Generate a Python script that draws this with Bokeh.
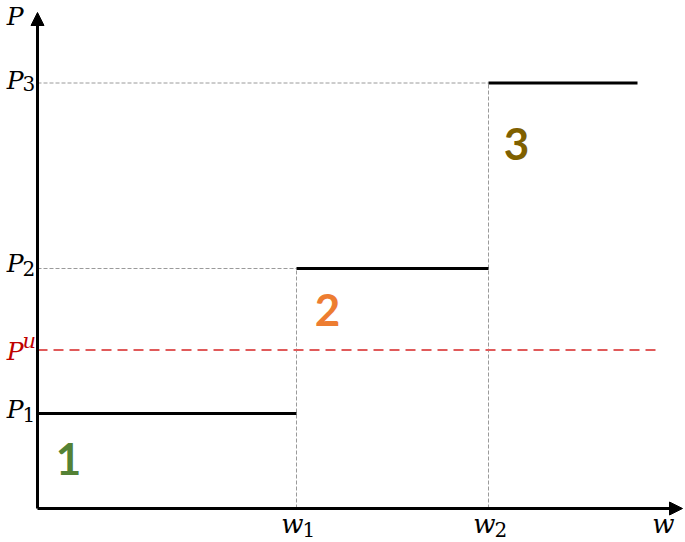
from bokeh.plotting import figure
from bokeh.models import ColumnDataSource, Arrow, NormalHead, Range1d
from bokeh.core.properties import value
from bokeh.embed import file_html
from bokeh.resources import INLINE

# ---- data ----
w_levels = [2.59, 4.51]          # w1, w2
w_subs = ["1", "2"]
p_levels = [0.95, 2.40, 4.255]   # P1, P2, P3
p_subs = ["1", "2", "3"]
p_u = 1.585                       # P^u
step_start = [0.0, 2.59, 4.51]
step_end = [2.59, 4.51, 6.00]
step_ids = ["1", "2", "3"]
step_colors = ["#548235", "#ED7D31", "#7F6000"]
id_x = [0.31, 2.90, 4.79]
id_y = [0.50, 1.99, 3.65]
x_axis_end = 6.45
y_axis_end = 4.96
pu_end = 6.18

SERIF = value("DejaVu Serif")

p = figure(width=685, height=542, x_range=Range1d(-0.37, 6.48), y_range=Range1d(-0.34, 5.08),
           output_backend="svg", toolbar_location=None, min_border=0,
           x_axis_type=None, y_axis_type=None)
p.grid.visible = False
p.outline_line_color = None

# gray dashed guides
gx0 = [0.0, 0.0]
gy = [p_levels[2], p_levels[1]]
gx1 = [w_levels[1], w_levels[0]]
p.segment(x0=gx0, y0=gy, x1=gx1, y1=gy, line_color="#9a9a9a", line_width=1, line_dash="4 2")
p.segment(x0=w_levels, y0=[0.0, 0.0], x1=w_levels, y1=[p_levels[1], p_levels[2]],
          line_color="#9a9a9a", line_width=1, line_dash="4 2")

# red dashed P^u line
p.segment(x0=[0.0], y0=[p_u], x1=[pu_end], y1=[p_u], line_color="#E05A5A", line_width=2, line_dash="10 6")

# step lines
p.segment(x0=step_start, y0=p_levels, x1=step_end, y1=p_levels, line_color="black", line_width=3)

# axes arrows
p.add_layout(Arrow(x_start=0, y_start=0, x_end=x_axis_end, y_end=0, line_width=3, line_color="black",
                   end=NormalHead(size=13, fill_color="black", line_color="black")))
p.add_layout(Arrow(x_start=0, y_start=0, x_end=0, y_end=y_axis_end, line_width=3, line_color="black",
                   end=NormalHead(size=13, fill_color="black", line_color="black")))

# y labels: P1, P2, P3, P^u
ysrc_main = ColumnDataSource(dict(
    x=[0.0] * 4, y=p_levels + [p_u], t=["P"] * 4,
    c=["black", "black", "black", "#C00000"], yo=[-4, -5, -3, 1]))
p.text(x="x", y="y", text="t", source=ysrc_main, text_color="c", y_offset="yo", x_offset=-14,
       text_align="right", text_baseline="alphabetic", text_font=SERIF, text_font_style="italic",
       text_font_size="25px")
ysrc_sub = ColumnDataSource(dict(
    x=[0.0] * 4, y=p_levels + [p_u], t=p_subs + ["u"],
    c=["black", "black", "black", "#C00000"], yo=[1, 0, 0, -9],
    fs=["20px", "20px", "20px", "21px"], st=["normal", "normal", "normal", "italic"]))
p.text(x="x", y="y", text="t", source=ysrc_sub, text_color="c", y_offset="yo", x_offset=-15,
       text_align="left", text_baseline="alphabetic", text_font=SERIF, text_font_style="st",
       text_font_size="fs")

# x labels: w1, w2
p.text(x=w_levels, y=[0.0, 0.0], text=["w", "w"], x_offset=-4, y_offset=15,
       text_align="center", text_baseline="alphabetic", text_font=SERIF, text_font_style="italic",
       text_font_size="26px", text_color="black")
p.text(x=w_levels, y=[0.0, 0.0], text=w_subs, x_offset=6, y_offset=21,
       text_align="left", text_baseline="alphabetic", text_font=SERIF,
       text_font_size="20px", text_color="black")

# axis names
p.text(x=[x_axis_end], y=[0.0], text=["w"], x_offset=-19, y_offset=15,
       text_align="center", text_baseline="alphabetic", text_font=SERIF, text_font_style="italic",
       text_font_size="26px", text_color="black")
p.text(x=[0.0], y=[y_axis_end], text=["P"], x_offset=-14, y_offset=4,
       text_align="right", text_baseline="alphabetic", text_font=SERIF, text_font_style="italic",
       text_font_size="25px", text_color="black")

# step numbers
p.text(x=id_x, y=id_y, text=step_ids, text_color=step_colors, text_align="center",
       text_baseline="middle", text_font=value("Lato"), text_font_style="bold", text_font_size="44px")

open("out.html", "w").write(file_html(p, INLINE))
